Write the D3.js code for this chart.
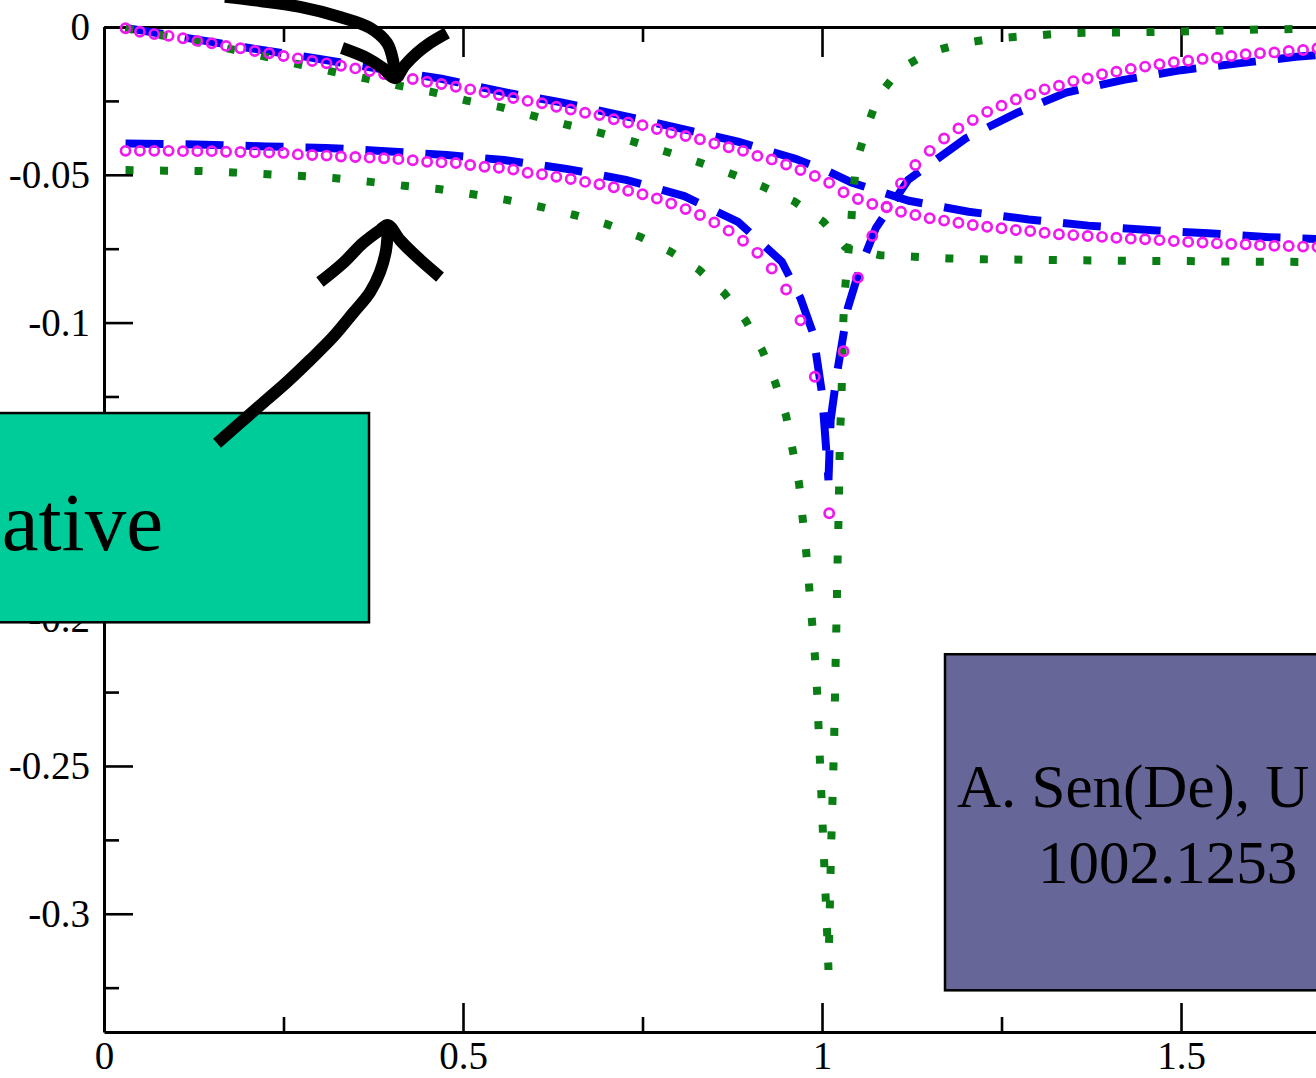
<!DOCTYPE html>
<html>
<head>
<meta charset="utf-8">
<script src="https://cdn.jsdelivr.net/npm/d3@7"></script>
<style>
  html, body { margin: 0; padding: 0; background: #fff; overflow: hidden; }
  svg { display: block; }
</style>
</head>
<body>
<div id="chart"></div>
<script>
// values

// open magenta circles, one every 0.02
const xCircles = [0.03,0.05,0.07,0.09,0.11,0.13,0.15,0.17,0.19,0.21,
                  0.23,0.25,0.27,0.29,0.31,0.33,0.35,0.37,0.39,0.41,
                  0.43,0.45,0.47,0.49,0.51,0.53,0.55,0.57,0.59,0.61,
                  0.63,0.65,0.67,0.69,0.71,0.73,0.75,0.77,0.79,0.81,
                  0.83,0.85,0.87,0.89,0.91,0.93,0.95,0.97,0.99,1.01,
                  1.03,1.05,1.07,1.09,1.11,1.13,1.15,1.17,1.19,1.21,
                  1.23,1.25,1.27,1.29,1.31,1.33,1.35,1.37,1.39,1.41,
                  1.43,1.45,1.47,1.49,1.51,1.53,1.55,1.57,1.59,1.61,
                  1.63,1.65,1.67,1.69];
const circleUpper = [-0.0004,-0.0016,-0.0024,-0.0030,-0.0038,-0.0047,-0.0055,-0.0064,-0.0072,-0.0081,
                     -0.0089,-0.0098,-0.0106,-0.0115,-0.0123,-0.0131,-0.0140,-0.0149,-0.0159,-0.0168,
                     -0.0176,-0.0185,-0.0193,-0.0202,-0.0211,-0.0221,-0.0230,-0.0240,-0.0250,-0.0258,
                     -0.0270,-0.0279,-0.0290,-0.0298,-0.0312,-0.0323,-0.0332,-0.0345,-0.0358,-0.0369,
                     -0.0380,-0.0394,-0.0407,-0.0419,-0.0436,-0.0448,-0.0465,-0.0484,-0.0504,-0.0527,
                     -0.0559,-0.0582,-0.0599,-0.0610,-0.0625,-0.0636,-0.0647,-0.0655,-0.0662,-0.0670,
                     -0.0676,-0.0681,-0.0687,-0.0690,-0.0696,-0.0701,-0.0704,-0.0707,-0.0710,-0.0713,
                     -0.0716,-0.0718,-0.0721,-0.0724,-0.0727,-0.0729,-0.0732,-0.0734,-0.0735,-0.0738,
                     -0.0740,-0.0741,-0.0743,-0.0744];
const circleLower = [-0.0419,-0.0419,-0.0419,-0.0419,-0.0420,-0.0420,-0.0420,-0.0422,-0.0423,-0.0424,
                     -0.0425,-0.0426,-0.0431,-0.0433,-0.0435,-0.0438,-0.0440,-0.0442,-0.0444,-0.0447,
                     -0.0451,-0.0456,-0.0458,-0.0460,-0.0467,-0.0473,-0.0476,-0.0482,-0.0493,-0.0498,
                     -0.0507,-0.0514,-0.0524,-0.0532,-0.0542,-0.0554,-0.0566,-0.0580,-0.0597,-0.0616,
                     -0.0636,-0.0661,-0.0689,-0.0723,-0.0764,-0.0817,-0.0888,-0.0992,-0.1183,-0.1645,
                     -0.1097,-0.0848,-0.0707,-0.0608,-0.0529,-0.0467,-0.0419,-0.0377,-0.0343,-0.0315,
                     -0.0287,-0.0266,-0.0245,-0.0228,-0.0211,-0.0199,-0.0183,-0.0174,-0.0160,-0.0151,
                     -0.0142,-0.0134,-0.0126,-0.0119,-0.0114,-0.0108,-0.0104,-0.0098,-0.0092,-0.0089,
                     -0.0086,-0.0081,-0.0078,-0.0072];

// blue dashed curves
const dashUpperX = [0.03,0.10,0.20,0.30,0.40,0.47,0.565,0.637,0.719,0.802,0.883,0.963,1.01,1.041,
                    1.121,1.204,1.288,1.371,1.455,1.538,1.623,1.69];
const dashUpperY = [-0.0003,-0.0031,-0.0070,-0.0108,-0.0148,-0.0175,-0.0224,-0.0255,-0.0298,-0.0343,
                    -0.0388,-0.0446,-0.0490,-0.0526,-0.0588,-0.0625,-0.0651,-0.0672,-0.0687,-0.0698,
                    -0.0711,-0.0717];
const dashLowerX = [0.03,0.141,0.225,0.309,0.392,0.477,0.557,0.644,0.727,0.808,0.883,0.944,0.97,0.9875,
                    1.0,1.009,1.012,1.021,1.036,1.053,1.075,1.12,1.2,1.27,1.34,1.42,1.5,1.58,1.66,1.69];
const dashLowerY = [-0.0394,-0.0398,-0.0404,-0.0409,-0.0420,-0.0433,-0.0450,-0.0480,-0.0517,-0.0572,
                    -0.0659,-0.0794,-0.0917,-0.1036,-0.1239,-0.1533,-0.1330,-0.1170,-0.0950,-0.0815,
                    -0.0680,-0.0517,-0.0377,-0.0292,-0.0222,-0.0179,-0.0146,-0.0123,-0.0101,-0.0095];

// green dotted curves
const dotUpperX = [0.03,0.080,0.129,0.177,0.224,0.271,0.318,0.364,0.412,0.459,0.505,0.554,0.598,0.644,
                   0.691,0.737,0.783,0.829,0.874,0.918,0.962,1.002,1.032,1.081,1.129,1.176,1.224,1.320,
                   1.416,1.511,1.608,1.69];
const dotUpperY = [-0.0004,-0.0028,-0.0050,-0.0075,-0.0100,-0.0126,-0.0151,-0.0174,-0.0199,-0.0221,
                   -0.0249,-0.0272,-0.0301,-0.0330,-0.0358,-0.0388,-0.0422,-0.0458,-0.0497,-0.0540,
                   -0.0591,-0.0659,-0.0744,-0.0772,-0.0777,-0.0783,-0.0786,-0.0788,-0.0791,-0.0792,
                   -0.0794,-0.0795];
const dotLowerX = [0.03,0.084,0.132,0.180,0.228,0.275,0.323,0.371,0.418,0.466,0.514,0.561,0.607,0.655,
                   0.700,0.747,0.789,0.829,0.864,0.894,0.917,0.935,0.950,0.959,0.968,0.973,0.978,0.982,
                   0.986,0.990,0.993,0.995,0.997,0.999,1.001,1.003,1.005,1.007,1.009,1.0105,1.0116,
                   1.0125,1.014,1.0153,1.0167,1.0177,1.0185,1.0195,1.0205,1.0213,1.0223,1.0234,1.0241,
                   1.025,1.027,1.028,1.029,1.031,1.035,1.040,1.043,1.048,1.062,1.078,1.108,1.148,1.195,
                   1.243,1.291,1.338,1.386,1.434,1.481,1.530,1.578,1.626,1.69];
const dotLowerY = [-0.0484,-0.0486,-0.0487,-0.0492,-0.0498,-0.0504,-0.0512,-0.0524,-0.0537,-0.0548,
                   -0.0566,-0.0585,-0.0608,-0.0636,-0.0667,-0.0710,-0.0760,-0.0822,-0.0901,-0.0994,
                   -0.1095,-0.1204,-0.1315,-0.1429,-0.1544,-0.1661,-0.1776,-0.1892,-0.2009,-0.2125,
                   -0.2240,-0.2359,-0.2475,-0.2591,-0.2708,-0.2825,-0.2940,-0.3058,-0.3190,-0.3019,
                   -0.2901,-0.2785,-0.2669,-0.2552,-0.2436,-0.2319,-0.2202,-0.2086,-0.1968,-0.1852,
                   -0.1736,-0.1620,-0.1505,-0.1384,-0.1270,-0.1155,-0.1035,-0.0920,-0.0803,-0.0687,
                   -0.0571,-0.0456,-0.0343,-0.0236,-0.0143,-0.0087,-0.0055,-0.0038,-0.0030,-0.0021,
                   -0.0019,-0.0018,-0.0016,-0.0014,-0.0010,-0.0008,-0.0006];

// ticks (the -0.15 label sits fully under the green box, so it is left blank)
const xTicks = [0, 0.5, 1, 1.5];
const xTickLabels = ["0", "0.5", "1", "1.5"];
const xMinorTicks = [0.25, 0.75, 1.25];
const yTicks = [0, -0.05, -0.1, -0.15, -0.2, -0.25, -0.3];
const yTickLabels = ["0", "-0.05", "-0.1", "", "-0.2", "-0.25", "-0.3"];
const yMinorTicks = [-0.025, -0.075, -0.125, -0.175, -0.225, -0.275, -0.325];

// hand-drawn annotations, in data units
const arrowTopShaft = [[0.1685,0.0102],[0.2173,0.0088],[0.2730,0.0068],[0.3287,0.0034],[0.3705,-0.0003],
                       [0.3942,-0.0054],[0.4025,-0.0112],[0.4053,-0.0173]];
const arrowTopHead = [[0.3315,-0.0071],[0.3663,-0.0105],[0.3886,-0.0139],[0.4053,-0.0173],
                      [0.4192,-0.0129],[0.4359,-0.0088],[0.4540,-0.0054],[0.4777,-0.0020]];
const arrowLowShaft = [[0.3955,-0.0670],[0.3928,-0.0755],[0.3844,-0.0829],[0.3705,-0.0897],[0.3468,-0.0968],
                       [0.3189,-0.1049],[0.2869,-0.1127],[0.2549,-0.1201],[0.2214,-0.1272],[0.1894,-0.1340],
                       [0.1574,-0.1408]];
const arrowLowHead = [[0.3008,-0.0863],[0.3329,-0.0799],[0.3607,-0.0731],[0.3844,-0.0687],[0.3955,-0.0670],
                      [0.4123,-0.0721],[0.4359,-0.0778],[0.4680,-0.0846]];
const tealBox = {x0: -0.16, x1: 0.3691, y0: -0.1306, y1: -0.2014, text: "ative", tx: 0.0822, ty: -0.1770};
const purpleBox = {x0: 1.1713, x1: 1.75, y0: -0.2122, y1: -0.3259};
const purpleLines = [
  {text: "A. Sen(De), U", tx: 1.1880, ty: -0.2640},
  {text: "1002.1253", tx: 1.3008, ty: -0.2897}
];

const width = 1316, height = 1078;

const svg = d3.select("#chart").append("svg")
    .attr("width", width)
    .attr("height", height);

const x = d3.scaleLinear().domain([0, 1.688]).range([104, 1316]);
const y = d3.scaleLinear().domain([-0.34, 0]).range([1032, 27]);

const font = "'Liberation Serif', 'Times New Roman', serif";

// axes
function styleAxis(g, hideDomain) {
    g.selectAll(".domain").attr("stroke", "#000").attr("stroke-width", 3);
    g.selectAll(".tick line").attr("stroke", "#000").attr("stroke-width", 2.6);
    g.selectAll(".tick text").attr("fill", "#000")
        .style("font-family", font).style("font-size", "39px");
    if (hideDomain) g.select(".domain").remove();
}

svg.append("g")
    .attr("transform", `translate(0,${y(-0.34)})`)
    .call(d3.axisBottom(x).tickValues(xTicks).tickFormat((d, i) => xTickLabels[i])
        .tickSize(-29).tickSizeOuter(0).tickPadding(9))
    .call(g => styleAxis(g, false));
svg.append("g")
    .attr("transform", `translate(0,${y(-0.34)})`)
    .call(d3.axisBottom(x).tickValues(xMinorTicks).tickFormat("").tickSize(-15))
    .call(g => styleAxis(g, true));

svg.append("g")
    .attr("transform", `translate(0,${y(0)})`)
    .call(d3.axisTop(x).tickValues(xTicks).tickFormat("").tickSize(-30).tickSizeOuter(0))
    .call(g => styleAxis(g, false));
svg.append("g")
    .attr("transform", `translate(0,${y(0)})`)
    .call(d3.axisTop(x).tickValues(xMinorTicks).tickFormat("").tickSize(-15))
    .call(g => styleAxis(g, true));

svg.append("g")
    .attr("transform", `translate(${x(0)},0)`)
    .call(d3.axisLeft(y).tickValues(yTicks).tickFormat((d, i) => yTickLabels[i])
        .tickSize(-29).tickSizeOuter(0).tickPadding(14))
    .call(g => styleAxis(g, false))
    .selectAll(".tick text").attr("dy", "0.33em");
svg.append("g")
    .attr("transform", `translate(${x(0)},0)`)
    .call(d3.axisLeft(y).tickValues(yMinorTicks).tickFormat("").tickSize(-15))
    .call(g => styleAxis(g, true));

// data
svg.append("clipPath").attr("id", "plot-clip")
    .append("rect").attr("x", x(0)).attr("y", 12)
    .attr("width", width - x(0)).attr("height", y(-0.34) - 12);

const plot = svg.append("g").attr("clip-path", "url(#plot-clip)");

const line = d3.line()
    .x(d => x(d[0]))
    .y(d => y(d[1]))
    .curve(d3.curveLinear);

const dashed = [d3.zip(dashUpperX, dashUpperY), d3.zip(dashLowerX, dashLowerY)];
const dotted = [d3.zip(dotUpperX, dotUpperY), d3.zip(dotLowerX, dotLowerY)];

plot.selectAll(".dashed")
    .data(dashed)
    .enter()
    .append("path")
    .attr("class", "dashed")
    .attr("d", line)
    .attr("fill", "none")
    .attr("stroke", "#0000f0")
    .attr("stroke-width", 8)
    .attr("stroke-dasharray", "38,22");

plot.selectAll(".dotted")
    .data(dotted)
    .enter()
    .append("path")
    .attr("class", "dotted")
    .attr("d", line)
    .attr("fill", "none")
    .attr("stroke", "#0a7d14")
    .attr("stroke-width", 8)
    .attr("stroke-dasharray", "8,26.5");

const circles = d3.zip(xCircles, circleUpper).concat(d3.zip(xCircles, circleLower));
plot.selectAll(".circ")
    .data(circles)
    .enter()
    .append("circle")
    .attr("class", "circ")
    .attr("cx", d => x(d[0]))
    .attr("cy", d => y(d[1]))
    .attr("r", 4.6)
    .attr("fill", "none")
    .attr("stroke", "#ee1aee")
    .attr("stroke-width", 2.7);

// annotation boxes
function box(b, fill) {
    svg.append("rect")
        .attr("x", x(b.x0))
        .attr("y", y(b.y0))
        .attr("width", x(b.x1) - x(b.x0))
        .attr("height", y(b.y1) - y(b.y0))
        .attr("fill", fill)
        .attr("stroke", "#000")
        .attr("stroke-width", 2.5);
}

box(tealBox, "#00cc99");
svg.append("text")
    .attr("x", x(tealBox.tx))
    .attr("y", y(tealBox.ty))
    .attr("text-anchor", "end")
    .style("font-family", font)
    .style("font-size", "83px")
    .attr("fill", "#000")
    .text(tealBox.text);

box(purpleBox, "#666699");
svg.selectAll(".ptext")
    .data(purpleLines)
    .enter()
    .append("text")
    .attr("class", "ptext")
    .attr("x", d => x(d.tx))
    .attr("y", d => y(d.ty))
    .style("font-family", font)
    .style("font-size", "61px")
    .attr("fill", "#000")
    .text(d => d.text);

// black hand-drawn arrows
const pen = d3.line().x(d => x(d[0])).y(d => y(d[1])).curve(d3.curveCatmullRom);
[arrowTopShaft, arrowTopHead, arrowLowShaft, arrowLowHead].forEach(pts => {
    svg.append("path")
        .attr("d", pen(pts))
        .attr("fill", "none")
        .attr("stroke", "#000")
        .attr("stroke-width", 12)
        .attr("stroke-linejoin", "round")
        .attr("stroke-linecap", "butt");
});
</script>
</body>
</html>
